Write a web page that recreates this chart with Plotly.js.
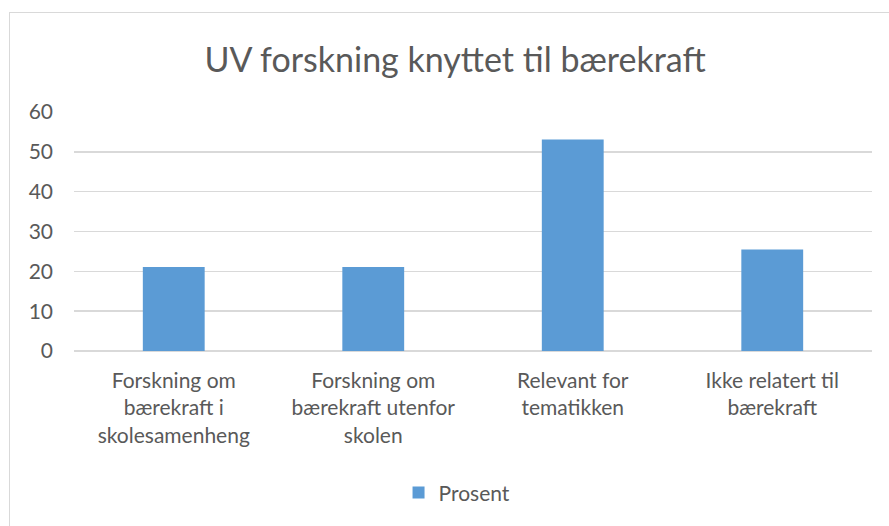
<!DOCTYPE html>
<html>
<head>
<meta charset="utf-8">
<script src="https://cdn.plot.ly/plotly-3.0.1.min.js"></script>
<style>
html,body{margin:0;padding:0;background:#fff;}
#wrap{position:relative;width:889px;height:526px;overflow:hidden;}
#chart{position:absolute;left:0;top:0;width:889px;height:526px;}
#frame{position:absolute;left:9px;top:12px;width:900px;height:540px;border:1.5px solid #d9d9d9;pointer-events:none;}
</style>
</head>
<body>
<div id="wrap"><div id="chart"></div><div id="frame"></div></div>
<script>
const categories = [
  "Forskning om<br>bærekraft i<br>skolesamenheng",
  "Forskning om<br>bærekraft utenfor<br>skolen",
  "Relevant for<br>tematikken",
  "Ikke relatert til<br>bærekraft"
];
const seriesName = "Prosent";
const values = [21.1, 21.1, 53.1, 25.5];
const yTicks = [0, 10, 20, 30, 40, 50, 60];

const font = "Lato, 'Open Sans', sans-serif";
const textColor = "#595959";

Plotly.newPlot("chart", [{
  type: "bar",
  x: categories,
  y: values,
  name: seriesName,
  marker: {color: "#5b9bd5"},
  showlegend: true
}], {
  width: 889, height: 526,
  paper_bgcolor: "#fff", plot_bgcolor: "#fff",
  margin: {l: 74, r: 17, t: 112, b: 175},
  bargap: 0.69,
  title: {
    text: "UV forskning knyttet til bærekraft",
    font: {family: font, size: 34, color: textColor},
    xref: "container", x: 0.512, xanchor: "center",
    yref: "container", y: 1 - 60/526, yanchor: "middle"
  },
  xaxis: {
    type: "category",
    tickfont: {family: font, size: 21, color: textColor},
    showgrid: false, zeroline: false, showline: false,
    ticks: "", ticklabelstandoff: 15
  },
  yaxis: {
    range: [0, 60],
    tickvals: yTicks,
    ticktext: yTicks.map(String),
    tickfont: {family: font, size: 21, color: textColor},
    gridcolor: "#d9d9d9", gridwidth: 1.5,
    zeroline: true, zerolinecolor: "#d9d9d9", zerolinewidth: 1.5,
    showline: false, ticks: "", ticklabelstandoff: 20
  },
  legend: {
    orientation: "h",
    x: 0.48, xanchor: "center",
    y: -0.594, yanchor: "middle",
    font: {family: font, size: 21, color: textColor},
    itemwidth: 30
  }
}, {displayModeBar: false, staticPlot: true});
</script>
</body>
</html>
